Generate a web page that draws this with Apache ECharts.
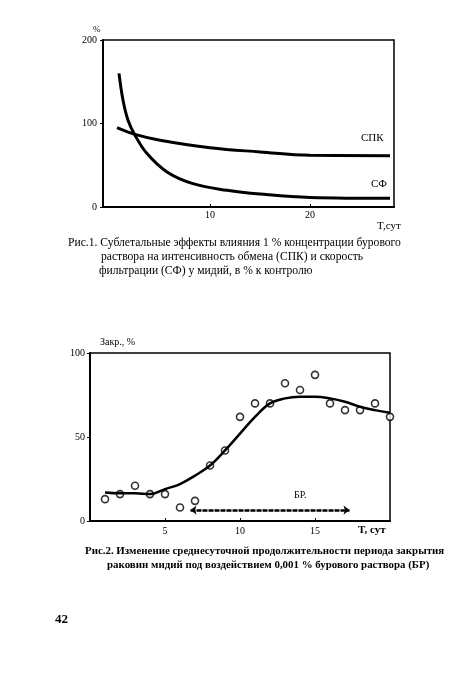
<!DOCTYPE html>
<html>
<head>
<meta charset="utf-8">
<script src="https://cdn.jsdelivr.net/npm/echarts@6/dist/echarts.min.js"></script>
<style>
  html, body { margin: 0; padding: 0; background: #fff; }
  #chart { width: 450px; height: 674px; }
</style>
</head>
<body>
<div id="chart"></div>
<script>
// Рис.1 - СПК и СФ, % к контролю
var spkDays = [0.7, 2.5, 5, 10, 15, 20, 28];
var spkVals = [95, 87, 80, 71, 66, 62, 61.5];
var sfDays = [0.9, 1.3, 1.8, 2.5, 3.7, 5.7, 8.3, 11.7, 15, 20, 28];
var sfVals = [160, 128, 104, 86, 64, 42, 28, 20, 15.5, 11.5, 10.5];
var fig1XTicks = [10, 20];

// Рис.2 - закрытие раковин, %
var days = [1, 2, 3, 4, 5, 6, 7, 8, 9, 10, 11, 12, 13, 14, 15, 16, 17, 18, 19, 20];
var closedObs = [13, 16, 21, 16, 16, 8, 12, 33, 42, 62, 70, 70, 82, 78, 87, 70, 66, 66, 70, 62];
var closedFit = [17, 16.5, 16.5, 16, 19, 22, 27, 33, 42, 52, 62, 70, 73, 74, 74, 73, 71, 68, 66, 64.5];
var fig2XTicks = [5, 10, 15];
var brStart = 6.7, brEnd = 17.3, brLevel = 6.5;

function pairs(xs, ys) {
  return xs.map(function (x, i) { return [x, ys[i]]; });
}

var serif = "Liberation Serif";
var chart = echarts.init(document.getElementById("chart"));

chart.setOption({
  animation: false,
  textStyle: { fontFamily: serif, color: "#000" },
  grid: [
    { left: 103, top: 40, width: 291, height: 167, show: true, borderColor: "#000", borderWidth: 1.5 },
    { left: 90, top: 353, width: 300, height: 168, show: true, borderColor: "#000", borderWidth: 1.5 }
  ],
  xAxis: [
    {
      gridIndex: 0, type: "value", min: -0.7, max: 28.4,
      axisLine: { onZero: false, lineStyle: { color: "#000", width: 2 } },
      axisTick: { show: true, inside: true, length: 3, customValues: fig1XTicks, lineStyle: { color: "#000" } },
      axisLabel: { customValues: fig1XTicks, fontSize: 10, margin: 3, color: "#000", fontFamily: serif },
      splitLine: { show: false }
    },
    {
      gridIndex: 1, type: "value", min: 0, max: 20,
      axisLine: { onZero: false, lineStyle: { color: "#000", width: 2 } },
      axisTick: { show: true, inside: true, length: 3, customValues: fig2XTicks, lineStyle: { color: "#000" } },
      axisLabel: { customValues: fig2XTicks, fontSize: 10, margin: 5, color: "#000", fontFamily: serif },
      splitLine: { show: false }
    }
  ],
  yAxis: [
    {
      gridIndex: 0, type: "value", min: 0, max: 200, interval: 100,
      axisLine: { show: true, onZero: false, lineStyle: { color: "#000", width: 2 } },
      axisTick: { show: true, length: 3, lineStyle: { color: "#000" } },
      axisLabel: { fontSize: 10, margin: 6, color: "#000", fontFamily: serif },
      splitLine: { show: false }
    },
    {
      gridIndex: 1, type: "value", min: 0, max: 100, interval: 50,
      axisLine: { show: true, onZero: false, lineStyle: { color: "#000", width: 2 } },
      axisTick: { show: true, length: 3, lineStyle: { color: "#000" } },
      axisLabel: { fontSize: 10, margin: 5, color: "#000", fontFamily: serif },
      splitLine: { show: false }
    }
  ],
  series: [
    {
      name: "СПК", type: "line", xAxisIndex: 0, yAxisIndex: 0,
      data: pairs(spkDays, spkVals), smooth: 0.4, showSymbol: false,
      lineStyle: { color: "#000", width: 3 }
    },
    {
      name: "СФ", type: "line", xAxisIndex: 0, yAxisIndex: 0,
      data: pairs(sfDays, sfVals), smooth: 0.4, showSymbol: false,
      lineStyle: { color: "#000", width: 3 }
    },
    {
      name: "аппроксимация", type: "line", xAxisIndex: 1, yAxisIndex: 1,
      data: pairs(days, closedFit), smooth: 0.4, showSymbol: false,
      lineStyle: { color: "#000", width: 2.5 },
      markLine: {
        silent: true,
        symbol: ["arrow", "arrow"],
        symbolSize: [7, 6],
        label: { show: false },
        lineStyle: { color: "#000", width: 2.5, type: [5, 1] },
        data: [[{ coord: [brStart, brLevel] }, { coord: [brEnd, brLevel] }]]
      }
    },
    {
      name: "наблюдения", type: "scatter", xAxisIndex: 1, yAxisIndex: 1,
      data: pairs(days, closedObs), symbol: "circle", symbolSize: 7,
      itemStyle: { color: "#fff", borderColor: "#000", borderWidth: 1.6 }
    }
  ],
  graphic: [
    { type: "text", left: 93, top: 25, style: { text: "%", font: "9px " + serif, fill: "#000" } },
    { type: "text", left: 361, top: 133, style: { text: "СПК", font: "11px " + serif, fill: "#000" } },
    { type: "text", left: 371, top: 179, style: { text: "СФ", font: "11px " + serif, fill: "#000" } },
    { type: "text", left: 377, top: 221, style: { text: "T,сут", font: "11px " + serif, fill: "#000" } },
    { type: "text", left: 68, top: 237, style: { text: "Рис.1. Сублетальные эффекты влияния 1 % концентрации бурового", font: "11.6px " + serif, fill: "#000" } },
    { type: "text", left: 101, top: 251, style: { text: "раствора на интенсивность обмена (СПК) и скорость", font: "11.6px " + serif, fill: "#000" } },
    { type: "text", left: 99, top: 265, style: { text: "фильтрации (СФ) у мидий, в % к контролю", font: "11.6px " + serif, fill: "#000" } },

    { type: "text", left: 100, top: 337, style: { text: "Закр., %", font: "10px " + serif, fill: "#000" } },
    { type: "text", left: 294, top: 490, style: { text: "БР.", font: "10px " + serif, fill: "#000" } },
    { type: "text", left: 358, top: 525, style: { text: "T, сут", font: "bold 11px " + serif, fill: "#000" } },
    { type: "text", left: 85, top: 546, style: { text: "Рис.2. Изменение среднесуточной продолжительности периода закрытия", font: "bold 10.9px " + serif, fill: "#000" } },
    { type: "text", left: 107, top: 560, style: { text: "раковин мидий под воздействием 0,001 % бурового раствора (БР)", font: "bold 10.9px " + serif, fill: "#000" } },
    { type: "text", left: 55, top: 613, style: { text: "42", font: "bold 13px " + serif, fill: "#000" } }
  ]
});
</script>
</body>
</html>
